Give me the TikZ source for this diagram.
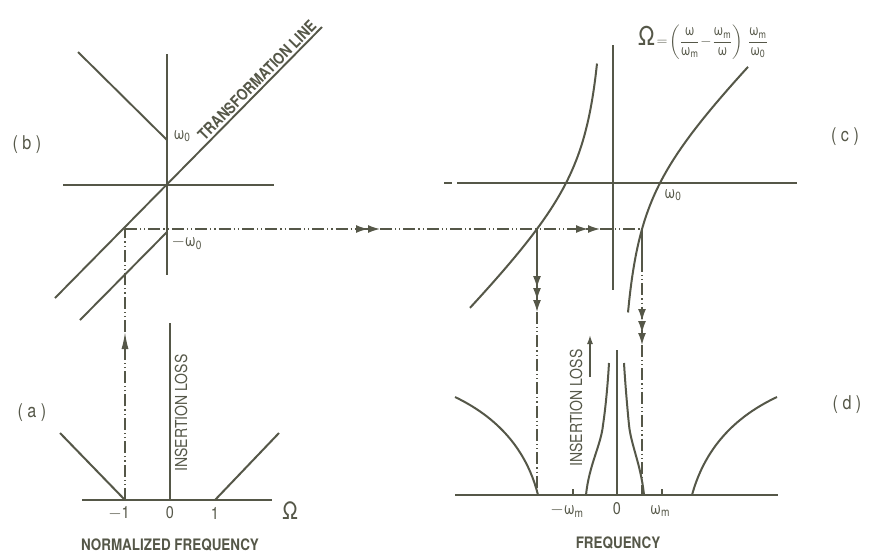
\documentclass[tikz,border=0pt]{standalone}
\usepackage{amsmath}
\usepackage{fontspec}
\newfontfamily\lbl[FakeStretch=0.85]{TeX Gyre Heros}
\usepackage{tikz}
\usetikzlibrary{arrows.meta}
\definecolor{ink}{RGB}{85,87,72}
\newcommand{\om}{\text{\lbl ω}}
\newcommand{\omm}{\om_{\text{\lbl m}}}
\newcommand{\omz}{\om_{\text{\lbl 0}}}

\begin{document}
\begin{tikzpicture}[x=1pt, y=-1pt,
  font=\lbl\fontsize{16.5}{18}\selectfont, text=ink,
  ax/.style={draw=ink, line width=1.9pt},
  crv/.style={draw=ink, line width=2pt},
  ln/.style={draw=ink, line width=1.5pt},
  dd/.style={draw=ink, line width=1.4pt,
             dash pattern=on 12pt off 3pt on 1.2pt off 3pt on 1.2pt off 3pt},
  hd/.tip={Latex[length=12pt,width=8pt]},
  capt/.style={font=\lbl\bfseries\fontsize{15.8}{18}\selectfont},
  num/.style={font=\lbl\fontsize{17}{19}\selectfont},
  tag/.style={font=\lbl\fontsize{19}{21}\selectfont},
]
\useasboundingbox (0,0) rectangle (873,558);

%% ---------- (b) transformation ----------
\coordinate (bT) at (167,54);
\coordinate (bB) at (167,275);
\coordinate (wz) at (167,140);
\coordinate (mwz) at (167,232);
\coordinate (vtop) at (78,52);
\coordinate (tl1) at (55,298);
\coordinate (tl2) at (322,27);
\coordinate (lo2) at (80,320);
\draw[ax] (bT) -- (bB);
\draw[ax] (63,185) -- (274,185);
\draw[ax] (vtop) -- (wz);
\draw[ax] (tl1) -- node[pos=0.78, above, sloped, capt, inner sep=2pt] {TRANSFORMATION LINE} (tl2);
\draw[ax] (mwz) -- (lo2);
\node[num, anchor=west] (lwz) at (170,136) {$\omz$};
\node[num, anchor=west] (lmwz) at (168,243) {$-\omz$};
\node[tag] (tb) at (27,145) {( b )};

%% ---------- (a) low-pass prototype ----------
\coordinate (aO) at (170,500);
\coordinate (m1) at (125,500);
\coordinate (p1) at (215,500);
\draw[ax] (82,500) -- (272,500);
\draw[ax] (170,323) -- (aO);
\draw[crv] (60,433) -- (m1);
\draw[crv] (p1) -- (279,433);
\node[num] (lm1) at (119,513) {$-$1};
\node[num] (l0) at (170,513) {0};
\node[num] (lp1) at (215,513) {1};
\node[font=\lbl\fontsize{24}{26}\selectfont] (lOm) at (290,511) {Ω};
\node[rotate=90] (ila) at (181,413) {INSERTION LOSS};
\node[capt] (nf) at (170,545) {NORMALIZED FREQUENCY};
\node[tag] (ta) at (32,413) {( a )};

%% ---------- (c) frequency mapping ----------
\coordinate (wl) at (537,229);
\coordinate (wr) at (642,229);
\coordinate (hs) at (125,229);
\coordinate (hA) at (380,229);
\coordinate (hB) at (600,229);
\draw[ax] (613,45) -- (613,290);
\draw[ax] (444,183) -- (452,183);
\draw[ax] (457,183) -- (797,183);
\draw[crv] plot[domain=15:135, samples=80, smooth] ({613+\x},{183-46*(\x/47-47/\x)});
\draw[crv] plot[domain=-143:-16, samples=80, smooth] ({613+\x},{183-46*(\x/47-47/\x)});
\node[num] (lwzc) at (673,195) {$\omz$};
\node[font=\lbl\fontsize{15}{17}\selectfont, inner sep=0pt] (eq) at (703,42)
  {$\text{\fontsize{26}{26}\selectfont\lbl Ω}\!=\!\left(\dfrac{\om}{\omm}\!-\!\dfrac{\omm}{\om}\right)\,\dfrac{\omm}{\omz}$};
\node[tag] (tc) at (845,137) {( c )};

% dash-dot path from (a) through (b) into (c)
\draw[dd, -{Latex[length=17pt,width=7pt]}] (m1) -- (125,332);
\draw[dd] (125,332) -- (hs);
\draw[dd, -{hd[] hd[]}] (hs) -- (hA);
\draw[dd, -{hd[] hd[]}] (hA) -- (hB);
\draw[dd] (hB) -- (wr);

%% ---------- (d) band-pass response ----------
\draw[ax] (455,495) -- (778,495);
\draw[ax] (617,350) -- (617,495);
\draw[ax] (573,495) -- (573,489);
\draw[ax] (662,495) -- (662,489);
\draw[crv] (455,397) .. controls (503,420) and (528,455) .. (538,495);
\draw[crv] (692,495) .. controls (703,455) and (728,420) .. (777,397);
\draw[crv] (586,495) .. controls (589,465) and (601,445) .. (603,425)
                      .. controls (606,405) and (608,380) .. (609,363);
\draw[crv] (644,495) .. controls (641,465) and (631,445) .. (629,425)
                      .. controls (627,405) and (625,380) .. (624,363);
\draw[ln, -{hd[] hd[] hd[]}] (wl) -- (537,312);
\draw[dd] (537,312) -- (537,495);
\draw[ln] (wr) -- (642,260);
\draw[dd, -{hd[] hd[] hd[]}] (642,260) -- (642,345);
\draw[dd] (642,345) -- (642,495);
\draw[ln, -{Latex[length=9pt,width=6pt]}] (590,377) -- (590,335);
\node[rotate=90] (ild) at (576,408) {INSERTION LOSS};
\node[num] (lmwm) at (567,511) {$-\omm$};
\node[num] (l0d) at (617,509) {0};
\node[num] (lwm) at (660,511) {$\omm$};
\node[capt] (fq) at (618,543) {FREQUENCY};
\node[tag] (td) at (847,405) {( d )};
\end{tikzpicture}
\end{document}
